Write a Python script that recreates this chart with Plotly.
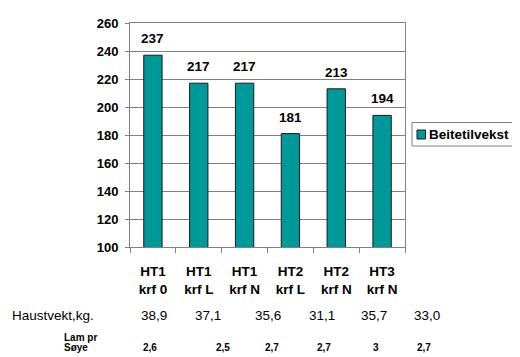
import plotly.graph_objects as go

categories = ["HT1 krf 0", "HT1 krf L", "HT1 krf N", "HT2 krf L", "HT2 krf N", "HT3 krf N"]
tick_labels = ["HT1<br>krf 0", "HT1<br>krf L", "HT1<br>krf N", "HT2<br>krf L", "HT2<br>krf N", "HT3<br>krf N"]
beitetilvekst = [237, 217, 217, 181, 213, 194]
haustvekt = ["38,9", "37,1", "35,6", "31,1", "35,7", "33,0"]
lam_pr_soye = ["2,6", "2,5", "2,7", "2,7", "3", "2,7"]
series_name = "Beitetilvekst"

FONT = "Liberation Sans, Arial, sans-serif"
OFF = 8  # page body margin offset
W, H = 520 - OFF, 357 - OFF
# plot area in window pixels
PL, PT, PR, PB = 130, 23, 405, 247
L, T = PL - OFF, PT - OFF
R, B = W - (PR - OFF), H - (PB - OFF)
pw, ph = PR - PL, PB - PT

def px_x(px):
    return (px - PL) / pw

def px_y(py):
    return (PB - py) / ph

fig = go.Figure()
fig.add_trace(go.Bar(
    x=categories, y=beitetilvekst, name=series_name,
    marker=dict(color="#009999", line=dict(color="#1a1a1a", width=1)),
    width=0.4, showlegend=False,
))

annotations = []
for c, v in zip(categories, beitetilvekst):
    annotations.append(dict(text="<b>%d</b>" % v, x=c, y=v, xref="x", yref="y",
                            showarrow=False, yanchor="bottom", yshift=7,
                            font=dict(family=FONT, size=13.5, color="black")))
annotations.append(dict(text="Haustvekt,kg.", x=px_x(53), y=px_y(315), xref="paper", yref="paper",
                        showarrow=False, font=dict(family=FONT, size=13.5, color="black"),
                        xanchor="center", yanchor="middle"))
hv_pos = [154, 208, 268, 322, 374, 427]
for v, p in zip(haustvekt, hv_pos):
    annotations.append(dict(text=v, x=px_x(p), y=px_y(315), xref="paper", yref="paper",
                            showarrow=False, font=dict(family=FONT, size=13.5, color="black"),
                            xanchor="center", yanchor="middle"))
annotations.append(dict(text="<b>Lam pr</b>", x=px_x(62), y=px_y(337), xref="paper", yref="paper",
                        showarrow=False, font=dict(family=FONT, size=10, color="black"),
                        xanchor="left", yanchor="middle", align="left"))
annotations.append(dict(text="<b>Søye</b>", x=px_x(62), y=px_y(347.5), xref="paper", yref="paper",
                        showarrow=False, font=dict(family=FONT, size=10, color="black"),
                        xanchor="left", yanchor="middle", align="left"))
lp_pos = [150, 223, 272, 324, 376, 424]
for v, p in zip(lam_pr_soye, lp_pos):
    annotations.append(dict(text="<b>" + v + "</b>", x=px_x(p), y=px_y(347.5), xref="paper", yref="paper",
                            showarrow=False, font=dict(family=FONT, size=10, color="black"),
                            xanchor="center", yanchor="middle"))
# legend text
annotations.append(dict(text="<b>" + series_name + "</b>", x=px_x(427), y=px_y(134.5), xref="paper", yref="paper",
                        showarrow=False, font=dict(family=FONT, size=13.5, color="black"),
                        xanchor="left", yanchor="middle"))

shapes = [
    dict(type="rect", xref="paper", yref="paper", x0=px_x(412), x1=px_x(514.5), y0=px_y(122.5), y1=px_y(146),
         line=dict(color="#808080", width=1), fillcolor="white"),
    dict(type="rect", xref="paper", yref="paper", x0=px_x(417), x1=px_x(425.5), y0=px_y(130), y1=px_y(139),
         line=dict(color="#1a1a1a", width=1), fillcolor="#009999"),
]

fig.update_layout(
    width=W, height=H,
    margin=dict(l=L, r=R, t=T, b=B, autoexpand=False),
    paper_bgcolor="white", plot_bgcolor="white",
    font=dict(family=FONT, color="black"),
    showlegend=False,
    annotations=annotations,
    shapes=shapes,
)
fig.update_yaxes(range=[100, 260], dtick=20, showgrid=True, gridcolor="#808080", gridwidth=1,
                 showline=True, linecolor="#808080", linewidth=1, mirror=True,
                 ticks="outside", ticklen=4, tickcolor="#808080", ticklabelstandoff=4,
                 tickfont=dict(family=FONT, size=13, color="black", weight="bold"),
                 zeroline=False)
fig.update_xaxes(tickvals=categories, ticktext=tick_labels, tickson="boundaries",
                 ticks="outside", ticklen=5, tickcolor="#808080", ticklabelstandoff=12,
                 showline=True, linecolor="#808080", linewidth=1, mirror=True,
                 tickfont=dict(family=FONT, size=13.5, color="black", weight="bold"),
                 showgrid=False)

fig.write_html("out.html")
